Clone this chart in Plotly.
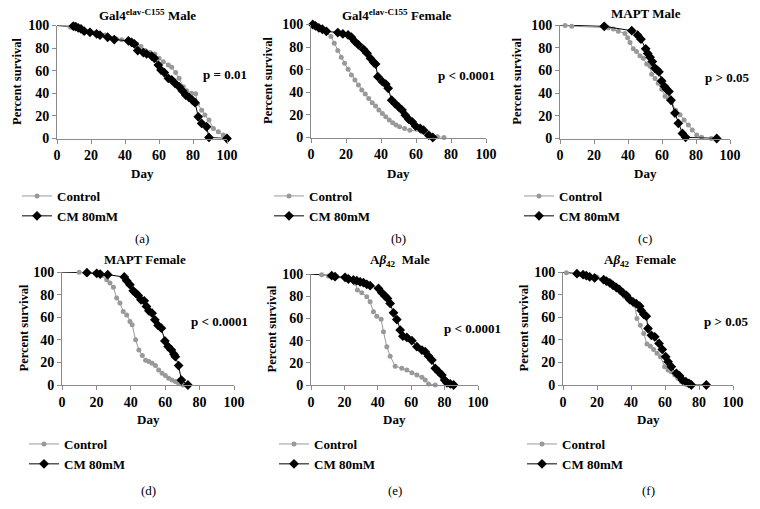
import plotly.graph_objects as go

W, H = 760, 509

# ---------------- data (day, percent survival) ----------------
a_ctrl_day = [0, 8, 10, 11.6, 14, 17, 20.4, 24, 28.2, 32.2, 35, 38, 43.9, 46.9, 49.4, 51.8, 54.7, 57.6, 60, 62.5, 65.5,
              67.5, 69.8, 71.8, 74.3, 76.3, 79.2, 81.6, 82.7, 85.1, 87, 89.4, 92, 94.9, 97.8, 100]
a_ctrl_surv = [100, 98.5, 98, 97.6, 96.5, 95, 93.8, 93, 91.7, 88.8, 88, 87.3, 85.8, 83.7, 81.4, 77.8, 76, 74.8, 71, 68, 65,
               63, 58.3, 53.3, 45.9, 42.3, 40, 39.5, 30.8, 25, 20.7, 16.3, 8.9, 5.9, 3, 0]
a_cm_day = [0, 9.6, 11, 12.5, 14.1, 16, 19.4, 23.3, 25.3, 29.8, 33.7, 42, 43.9, 45.5, 47.5, 50.8, 52.7, 55.7, 57.3, 59.6,
            61.2, 63.1, 65.5, 67.5, 69.4, 71.8, 73.7, 75.7, 77.6, 79.6, 81.2, 83.1, 85.1, 88, 89.4, 100]
a_cm_surv = [100, 99.5, 99, 98, 97, 95, 94, 92.6, 91.4, 89.6, 87.6, 86.4, 85, 83.7, 77.8, 76, 74.8, 73, 71, 65,
             60.6, 58.3, 53.3, 51.8, 48.8, 45.9, 42.3, 38.5, 36.4, 34, 31.7, 19.2, 13.3, 10.4, 0.9, 0]

b_ctrl_day = [0, 1, 3.5, 6.5, 11.4, 13.3, 15.3, 17.3, 19.2, 21.2, 23.1, 25.1, 27.1, 29, 31, 33, 35, 36.9, 38.8, 40.8, 42.7,
              44.7, 46.7, 48.6, 50.6, 53.5, 56.5, 63.3, 66.3, 72.2, 76]
b_ctrl_surv = [100, 100, 98.2, 95.8, 89.3, 83.4, 76.9, 71, 65.7, 60.4, 55.3, 50.9, 46.4, 42, 38.5, 34.6, 30.8, 27.8, 24.3,
               21.3, 18.3, 15.4, 13, 11, 9.5, 8, 6.5, 5, 2, 0.6, 0]
b_cm_day = [0, 1, 2.5, 4.5, 6.5, 8.8, 15.3, 18.2, 21.2, 23.1, 25.1, 27.1, 30, 32, 34, 35.9, 36.9, 38.2, 40.8, 42.7, 44.1,
            46.1, 48, 50, 52, 53.9, 55.9, 57.8, 59.8, 62.4, 64.3, 67.3, 69.6]
b_cm_surv = [100, 100, 98.8, 97, 95.8, 94, 92.9, 91.7, 90.8, 88.8, 84.9, 82, 78, 74.6, 70, 66.3, 65, 53.8, 49.4, 47.3,
             43.5, 33, 30, 27.2, 24.3, 19.8, 16, 13.9, 10, 8, 6.5, 2, 0]

c_ctrl_day = [0, 3, 6.9, 28.4, 31.4, 34.3, 38.2, 39.8, 41.2, 43.1, 45, 47, 49, 51, 53, 53.9, 55.9, 57.8, 59.8, 61.8, 63.7,
              65.7, 68, 70.6, 73, 75.5, 77.8, 80.4, 83.3, 89]
c_ctrl_surv = [100, 99.5, 99, 97.6, 96.4, 94.6, 92.5, 88.7, 84.5, 79, 76.7, 73, 70.7, 65.6, 63.6, 56.7, 52.8, 48.7, 43.3,
               37.3, 35, 32, 24.8, 21, 16.4, 12, 7.5, 3, 1, 0]
c_cm_day = [0, 26, 42.2, 45.7, 47.6, 50.4, 51.6, 53, 54.3, 55.9, 56.9, 58.2, 59.8, 61.4, 62.7, 64.1, 65.3, 67.6, 69.6,
            72, 73.9, 92.2]
c_cm_surv = [100, 98.8, 95, 91, 87.5, 79, 75, 71.6, 67.8, 61.8, 60.6, 58.8, 50.7, 46, 43.3, 41.5, 33.7, 22.4, 13.4, 4.5,
             1, 0]

d_ctrl_day = [0, 10, 14, 19.3, 23.1, 26, 27.9, 29.9, 31.8, 33.7, 35.6, 37.6, 39.5, 40.8, 42.8, 44.7, 46.7, 48.6, 50.5,
              52.4, 54.3, 56.2, 58.2, 60.1, 62, 63.9, 65.9, 67.8, 70.3]
d_ctrl_surv = [100, 99.7, 99.4, 98.8, 97, 93.2, 90.2, 86.4, 76.9, 72.5, 65, 62, 56.2, 53.3, 40, 31, 26, 22, 20.7, 19.2,
               17.2, 13.3, 10.4, 8.3, 5.9, 4.4, 3, 1.5, 0]
d_cm_day = [0, 14.5, 20.2, 22.2, 26.6, 36.2, 37.6, 39.5, 41.4, 42.8, 44.3, 45.9, 47.8, 49.1, 50.5, 52.4, 54, 55.9, 57.8,
            59.8, 61.7, 63.6, 65.1, 65.9, 67.8, 69.4, 73.2]
d_cm_surv = [100, 99.4, 98.8, 98.2, 97.6, 95.6, 92.3, 88.8, 83.4, 81.4, 79.3, 75.4, 74.5, 69.5, 65.7, 63.6, 57.7, 52.7,
             50.3, 39, 34, 31, 27.2, 25.1, 17.2, 4.4, 0]

e_ctrl_day = [0, 6.4, 10.4, 15.4, 21.4, 26.4, 27.8, 30.4, 33.4, 35.4, 37.4, 39.4, 42, 43.4, 45.4, 47.4, 50.4, 54.4, 57.4,
              60.4, 63.4, 66.4, 68.4, 70.4, 74.4]
e_ctrl_surv = [100, 99.4, 98.2, 97.6, 95.2, 91.6, 85.6, 83.2, 79.6, 75, 66, 62, 59.2, 48, 34.5, 26, 17, 15, 13.5, 11, 9,
               7, 4.5, 1, 0]
e_cm_day = [0, 12.4, 14.4, 20.4, 22.4, 25.4, 27.4, 29.4, 31.4, 33.4, 35.4, 40.4, 42.4, 44.4, 45.8, 47.4, 49.4, 51.4,
            53.4, 55, 57.4, 60.4, 63.4, 66.4, 68.4, 70.4, 72.4, 74.4, 76.4, 78.4, 80, 81.4, 83.4, 85.4]
e_cm_surv = [100, 98.5, 97.6, 97, 95.5, 94.6, 94, 92.8, 92.2, 90.7, 89.5, 87, 83.2, 80, 78, 73.5, 65, 59, 49.5, 44,
             42.9, 39.9, 34.5, 31.5, 30, 26, 22.5, 15, 12, 9, 4.5, 2, 1, 0]

f_ctrl_day = [0, 2, 9.8, 20, 25.5, 28.4, 30.4, 32.4, 34.3, 36.3, 38.2, 40.2, 42.2, 43.5, 45.5, 47.5, 49.4, 51.4, 53.3,
              55.3, 57.3, 59.8, 61.8, 63.7, 65.7, 67.6, 69.6, 71.6, 73.5]
f_ctrl_surv = [100, 99.4, 98, 95.6, 93.2, 91.2, 89, 86.8, 82.4, 78, 75.6, 73.5, 70.6, 58.8, 52.9, 45.6, 36.2, 34.4, 31.5,
               28, 25, 16.2, 13.2, 11.8, 8.8, 5.9, 3, 0.9, 0]
f_cm_day = [0, 8.2, 11.8, 13.7, 15.7, 18.6, 23.9, 25.5, 27.5, 29.4, 31.4, 33.3, 35.3, 37.3, 39.2, 41.2, 43.1, 45.1, 46,
            47.5, 49, 50, 52, 54, 56.5, 58.4, 60.4, 61.8, 63.7, 66.7, 68.6, 70.2, 72.2, 74.1, 75.5, 84.3]
f_cm_surv = [100, 98.5, 97.6, 96.8, 95.6, 94.7, 93.2, 92, 90.3, 88.2, 86.2, 84.4, 81.5, 79.4, 75.6, 73.5, 72, 69.7, 66,
             62.6, 60.9, 50, 44, 42.6, 36.8, 31.5, 25, 20.6, 16.2, 10.3, 8, 4.4, 3, 1.5, 0, 0]

panel_titles = ["Gal4<sup>elav-C155</sup> Male", "Gal4<sup>elav-C155</sup> Female", "MAPT Male",
                "MAPT Female", "A<i>β</i><sub>42</sub>  Male", "A<i>β</i><sub>42</sub>  Female"]
p_texts = ["p = 0.01", "p < 0.0001", "p > 0.05", "p < 0.0001", "p < 0.0001", "p > 0.05"]
panel_labels = ["(a)", "(b)", "(c)", "(d)", "(e)", "(f)"]
series_names = ["Control", "CM 80mM"]
tick_vals = [0, 20, 40, 60, 80, 100]

data = [
    (a_ctrl_day, a_ctrl_surv, a_cm_day, a_cm_surv),
    (b_ctrl_day, b_ctrl_surv, b_cm_day, b_cm_surv),
    (c_ctrl_day, c_ctrl_surv, c_cm_day, c_cm_surv),
    (d_ctrl_day, d_ctrl_surv, d_cm_day, d_cm_surv),
    (e_ctrl_day, e_ctrl_surv, e_cm_day, e_cm_surv),
    (f_ctrl_day, f_ctrl_surv, f_cm_day, f_cm_surv),
]

# ---------------- layout geometry (pixels) ----------------
boxes = [(57, 227, 25.5, 138.5), (311, 486, 24.5, 137.5), (560, 730, 25, 138.5),
         (62, 234, 272, 385), (311, 478, 274, 385), (563, 733, 272, 385)]
title_pos = [(147, 15), (397, 15), (646, 13), (145, 259), (400, 260), (640, 260)]
p_pos = [(225, 75), (466, 76), (727, 77), (219, 321), (472, 328), (726, 321)]
ytitle_x = [17, 268, 517, 23, 271, 523]
day_y = [173, 173, 173, 419, 419, 419]
legend_pos = [(17, 181), (269, 181), (519, 181), (24, 429), (274, 429), (522, 429)]
label_y = [238, 238, 238, 490, 490, 490]

FONT = "Liberation Serif"
GRAY = "#999999"
AXC = "#8a8a8a"


def px(x):
    return x / W


def py(y):
    return 1 - y / H


def ann(x, y, text, size=13, bold=True, angle=0):
    return dict(x=px(x), y=py(y), xref="paper", yref="paper", text=text, showarrow=False,
                xanchor="center", yanchor="middle", textangle=angle,
                font=dict(family=FONT, size=size, color="black", weight="bold" if bold else "normal"))


fig = go.Figure()
annotations = []
layout = dict(width=W, height=H, margin=dict(l=0, r=0, t=0, b=0, autoexpand=False),
              plot_bgcolor="white", paper_bgcolor="white", showlegend=True,
              font=dict(family=FONT, color="black"))

for i, (cd, cs, md, ms) in enumerate(data):
    k = "" if i == 0 else str(i + 1)
    xa, ya = "x" + k, "y" + k
    lg = "legend" + k
    # connecting line from the start (day 0) to the first recorded point
    fig.add_trace(go.Scatter(x=cd[:2], y=cs[:2], xaxis=xa, yaxis=ya, mode="lines", showlegend=False,
                             line=dict(color=GRAY, width=1), hoverinfo="skip"))
    fig.add_trace(go.Scatter(x=md[:2], y=ms[:2], xaxis=xa, yaxis=ya, mode="lines", showlegend=False,
                             line=dict(color="black", width=1), hoverinfo="skip"))
    fig.add_trace(go.Scatter(x=cd[1:], y=cs[1:], xaxis=xa, yaxis=ya, mode="lines+markers", name=series_names[0],
                             line=dict(color=GRAY, width=1), marker=dict(color=GRAY, size=5, symbol="circle"),
                             cliponaxis=False, legend=lg))
    fig.add_trace(go.Scatter(x=md[1:], y=ms[1:], xaxis=xa, yaxis=ya, mode="lines+markers", name=series_names[1],
                             line=dict(color="black", width=1), marker=dict(color="black", size=7.5, symbol="diamond"),
                             cliponaxis=False, legend=lg))
    l, r, t, b = boxes[i]
    axis_common = dict(range=[0, 100], tickvals=tick_vals, showgrid=False, zeroline=False, showline=True,
                       linecolor=AXC, linewidth=1, ticks="outside", ticklen=4, tickcolor=AXC,
                       tickfont=dict(family=FONT, size=14, color="black", weight="bold"), fixedrange=True)
    layout["xaxis" + k] = dict(axis_common, domain=[px(l), px(r)], anchor=ya)
    layout["yaxis" + k] = dict(axis_common, domain=[py(b), py(t)], anchor=xa)
    lx, ly = legend_pos[i]
    layout[lg] = dict(x=px(lx), y=py(ly), xanchor="left", yanchor="top", bgcolor="rgba(0,0,0,0)",
                      font=dict(family=FONT, size=13, color="black", weight="bold"), traceorder="normal",
                      itemwidth=30, tracegroupgap=0)
    tx, ty = title_pos[i]
    annotations.append(ann(tx, ty, panel_titles[i]))
    ptx, pty = p_pos[i]
    annotations.append(ann(ptx, pty, p_texts[i]))
    annotations.append(ann(ytitle_x[i], (t + b) / 2, "Percent survival", size=12.5, angle=-90))
    annotations.append(ann((l + r) / 2, day_y[i], "Day"))
    annotations.append(ann((l + r) / 2, label_y[i], panel_labels[i], bold=False))

layout["annotations"] = annotations
fig.update_layout(**layout)
fig.write_html("out.html", post_script="document.body.style.margin='0px';",
               config={"displayModeBar": False})
